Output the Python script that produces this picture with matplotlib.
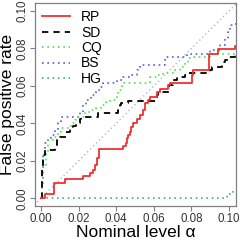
"""False positive rate against nominal level for five tests (RP, SD, CQ, BS, HG)."""

import matplotlib

matplotlib.use("Agg")
import matplotlib.pyplot as plt

# step curves: x breakpoints and the value held from each breakpoint on
rp_x = [0.0, 0.0021, 0.0069, 0.0128, 0.0223, 0.0261, 0.0277, 0.0287, 0.0298, 0.0309,
        0.0438, 0.0452, 0.0459, 0.0464, 0.0473, 0.0477, 0.0491, 0.0509, 0.0527, 0.0544,
        0.0553, 0.0571, 0.0580, 0.0619, 0.0633, 0.0677, 0.0686, 0.0802, 0.0810, 0.0895,
        0.0943, 0.1032, 0.1060]
rp_y = [0.0, 0.0023, 0.0083, 0.0101, 0.0119, 0.0137, 0.0151, 0.0178, 0.0215, 0.0261,
        0.0279, 0.0297, 0.0320, 0.0338, 0.0355, 0.0382, 0.0403, 0.0421, 0.0444, 0.0471,
        0.0507, 0.0524, 0.0542, 0.0569, 0.0581, 0.0604, 0.0617, 0.0658, 0.0684, 0.0773,
        0.0795, 0.0812, 0.0812]

sd_x = [0.0, 0.0004, 0.0007, 0.0012, 0.0021, 0.0073, 0.0087, 0.0099, 0.0135, 0.0153,
        0.0170, 0.0188, 0.0206, 0.0214, 0.0303, 0.0411, 0.0420, 0.0425, 0.0463, 0.0615,
        0.0624, 0.0682, 0.0704, 0.0722, 0.0766, 0.0782, 0.0899, 0.0908, 0.0961, 0.0979,
        0.0995, 0.1032, 0.1060]
sd_y = [0.0, 0.0082, 0.0169, 0.0231, 0.0258, 0.0284, 0.0311, 0.0329, 0.0355, 0.0373,
        0.0386, 0.0403, 0.0421, 0.0435, 0.0457, 0.0471, 0.0498, 0.0507, 0.0519, 0.0551,
        0.0569, 0.0604, 0.0631, 0.0645, 0.0658, 0.0670, 0.0684, 0.0699, 0.0729, 0.0741,
        0.0755, 0.0773, 0.0773]

cq_x = [0.0, 0.0004, 0.0011, 0.0028, 0.0037, 0.0064, 0.0090, 0.0108, 0.0161, 0.0179,
        0.0188, 0.0232, 0.0259, 0.0294, 0.0321, 0.0347, 0.0367, 0.0403, 0.0411, 0.0429,
        0.0580, 0.0615, 0.0651, 0.0704, 0.0739, 0.0766, 0.0784, 0.0793, 0.0899, 0.1060]
cq_y = [0.0, 0.0071, 0.0178, 0.0249, 0.0311, 0.0329, 0.0355, 0.0373, 0.0400, 0.0418,
        0.0435, 0.0462, 0.0471, 0.0480, 0.0498, 0.0515, 0.0524, 0.0551, 0.0578, 0.0613,
        0.0649, 0.0658, 0.0667, 0.0684, 0.0702, 0.0723, 0.0747, 0.0755, 0.0773, 0.0773]

bs_x = [0.0, 0.0004, 0.0011, 0.0020, 0.0037, 0.0055, 0.0073, 0.0090, 0.0108, 0.0206,
        0.0223, 0.0241, 0.0268, 0.0294, 0.0312, 0.0330, 0.0403, 0.0438, 0.0473, 0.0509,
        0.0527, 0.0660, 0.0775, 0.0899, 0.0952, 0.0979, 0.0996, 0.1005, 0.1014, 0.1060]
bs_y = [0.0, 0.0098, 0.0240, 0.0293, 0.0320, 0.0338, 0.0364, 0.0400, 0.0435, 0.0462,
        0.0498, 0.0524, 0.0551, 0.0578, 0.0595, 0.0617, 0.0631, 0.0649, 0.0658, 0.0684,
        0.0711, 0.0755, 0.0773, 0.0791, 0.0818, 0.0853, 0.0889, 0.0924, 0.0933, 0.0933]

hg_x = [0.0, 0.0979, 0.0992, 0.1023, 0.1060]
hg_y = [0.0, 0.0009, 0.0023, 0.0041, 0.0041]

ticks = [0.00, 0.02, 0.04, 0.06, 0.08, 0.10]
tick_labels = ["0.00", "0.02", "0.04", "0.06", "0.08", "0.10"]


def main() -> None:
    plt.rcParams["font.family"] = ["Liberation Sans", "DejaVu Sans"]
    fig = plt.figure(figsize=(2.4, 2.4), dpi=100)
    ax = fig.add_axes([0.146, 0.142, 0.837, 0.844])

    ax.plot([-0.01, 0.11], [-0.01, 0.11], color="#b8b8b8", lw=1.0,
            linestyle=(0, (1, 2)), zorder=1)

    dots = (0, (1, 2.2))
    ax.plot(hg_x, hg_y, drawstyle="steps-post", color="#2fb58f", lw=1.2,
            linestyle=dots, label="HG", zorder=2)
    ax.plot(bs_x, bs_y, drawstyle="steps-post", color="#5a5af0", lw=1.2,
            linestyle=dots, label="BS", zorder=3)
    ax.plot(cq_x, cq_y, drawstyle="steps-post", color="#55e055", lw=1.2,
            linestyle=dots, label="CQ", zorder=3)
    ax.plot(sd_x, sd_y, drawstyle="steps-post", color="black", lw=1.3,
            linestyle=(0, (3.5, 2.8)), label="SD", zorder=4)
    ax.plot(rp_x, rp_y, drawstyle="steps-post", color="#f03030", lw=1.3,
            label="RP", zorder=5)

    ax.set_xlim(-0.0032, 0.1037)
    ax.set_ylim(-0.0041, 0.1041)
    ax.set_xticks(ticks, tick_labels)
    ax.set_yticks(ticks, tick_labels)
    ax.tick_params(axis="both", colors="#808080", labelcolor="#333333",
                   labelsize=8.3, length=3.5, width=0.8, pad=1.5)
    plt.setp(ax.get_yticklabels(), rotation=90, va="center")
    for sp in ax.spines.values():
        sp.set_color("#808080")
        sp.set_linewidth(0.9)

    ax.set_xlabel("Nominal level α", fontsize=12.5, labelpad=0)
    ax.set_ylabel("False positive rate", fontsize=12.5, labelpad=1)

    handles, labels = ax.get_legend_handles_labels()
    order = ["RP", "SD", "CQ", "BS", "HG"]
    hmap = dict(zip(labels, handles))
    ax.legend([hmap[k] for k in order], order, loc="upper left", frameon=False,
              fontsize=10, handlelength=2.0, handletextpad=0.8, labelspacing=0.1,
              borderaxespad=0.2, borderpad=0.3)

    fig.savefig("out.png", dpi=100)
    plt.close(fig)


if __name__ == "__main__":
    main()
